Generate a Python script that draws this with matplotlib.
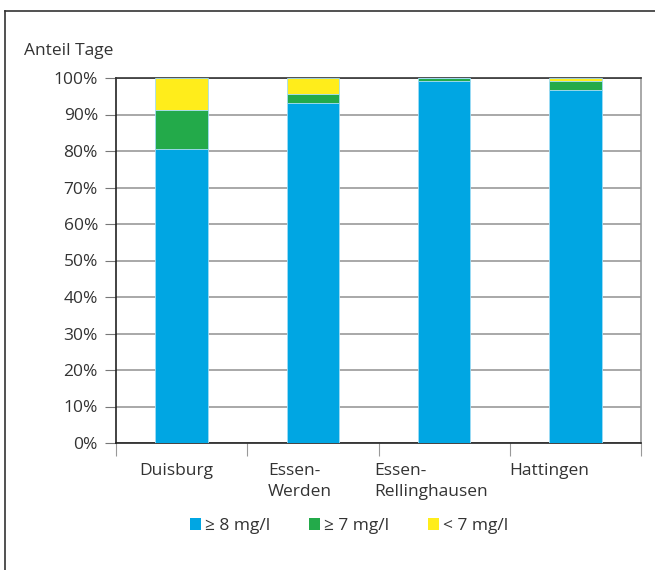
'''
Anteil Tage nach Sauerstoffgehalt
'''
# Load packages -------------------------------------------
import matplotlib
matplotlib.use('Agg')
import matplotlib.pyplot as plt
from matplotlib.lines import Line2D
from matplotlib.patches import Patch
from matplotlib.ticker import PercentFormatter, MultipleLocator

# Data ----------------------------------------------------
stations = ['Duisburg', 'Essen-\nWerden', 'Essen-\nRellinghausen', 'Hattingen']
labels = ['\u2265 8 mg/l', '\u2265 7 mg/l', '< 7 mg/l']
share_ge8 = [80.5, 93.1, 99.2, 96.6]
share_ge7 = [10.7, 2.6, 0.8, 2.6]
share_lt7 = [8.8, 4.3, 0.0, 0.8]

# Style ---------------------------------------------------
plt.rcParams['font.family'] = ['Open Sans', 'DejaVu Sans']
plt.rcParams['font.size'] = 12.5
txt_col = '#333333'
colors = ['#00A6E3', '#23AA4A', '#FFED1B']

# Plot ----------------------------------------------------
fig = plt.figure(figsize=(6.55, 5.7), dpi=100)
ax = fig.add_axes([116 / 655, 127 / 570, 525 / 655, 365 / 570])

x = range(len(stations))
bottom = [0.0] * len(stations)
for vals, col in zip([share_ge8, share_ge7, share_lt7], colors):
    ax.bar(x, vals, width=0.4, bottom=bottom, color=col,
           edgecolor='#9fdcf5', linewidth=0.6, zorder=3)
    bottom = [b + v for b, v in zip(bottom, vals)]

ax.set_xlim(-0.5, 3.5)
ax.set_ylim(0, 100)
ax.yaxis.set_major_locator(MultipleLocator(10))
ax.yaxis.set_major_formatter(PercentFormatter(decimals=0))
ax.grid(axis='y', color='#9a9a9a', linewidth=1.2, zorder=0)

# category boundary ticks
ax.set_xticks([-0.5, 0.5, 1.5, 2.5, 3.5])
ax.set_xticklabels([])
ax.tick_params(axis='x', length=9, width=0.8, color='#999999')
ax.tick_params(axis='y', length=8, width=0.8, color='#777777',
               labelcolor=txt_col, pad=5)

for s in ['left', 'bottom']:
    ax.spines[s].set_color('#222222')
    ax.spines[s].set_linewidth(1.2)
ax.spines['top'].set_color('#333333')
ax.spines['top'].set_linewidth(1.2)
ax.spines['right'].set_color('#999999')
ax.spines['right'].set_linewidth(1.2)

# category labels (left aligned blocks like the original)
offsets = [-0.04, -0.10, -0.10, -0.20]
for i, (name, off) in enumerate(zip(stations, offsets)):
    ax.text(i + off, -5.4, name, ha='center', va='top', color=txt_col,
            multialignment='left', linespacing=1.45,
            transform=ax.transData)

ax.text(-0.175, 1.075, 'Anteil Tage', transform=ax.transAxes, color=txt_col,
        ha='left', va='center')

# legend
handles = [Patch(facecolor=c, edgecolor='none') for c in colors]
fig.legend(handles, labels, loc='center', bbox_to_anchor=(349 / 655, 1 - 526 / 570),
           ncol=3, frameon=False, handlelength=0.65, handleheight=0.65,
           handletextpad=0.2, columnspacing=2.25, labelcolor=txt_col)

# outer frame
fig.add_artist(Line2D([5 / 655, 5 / 655], [0, 1 - 11 / 570], color='#333333',
                      linewidth=1.2, transform=fig.transFigure))
fig.add_artist(Line2D([5 / 655, 1], [1 - 11 / 570, 1 - 11 / 570], color='#333333',
                      linewidth=1.2, transform=fig.transFigure))

plt.savefig('out.png', dpi=100)
